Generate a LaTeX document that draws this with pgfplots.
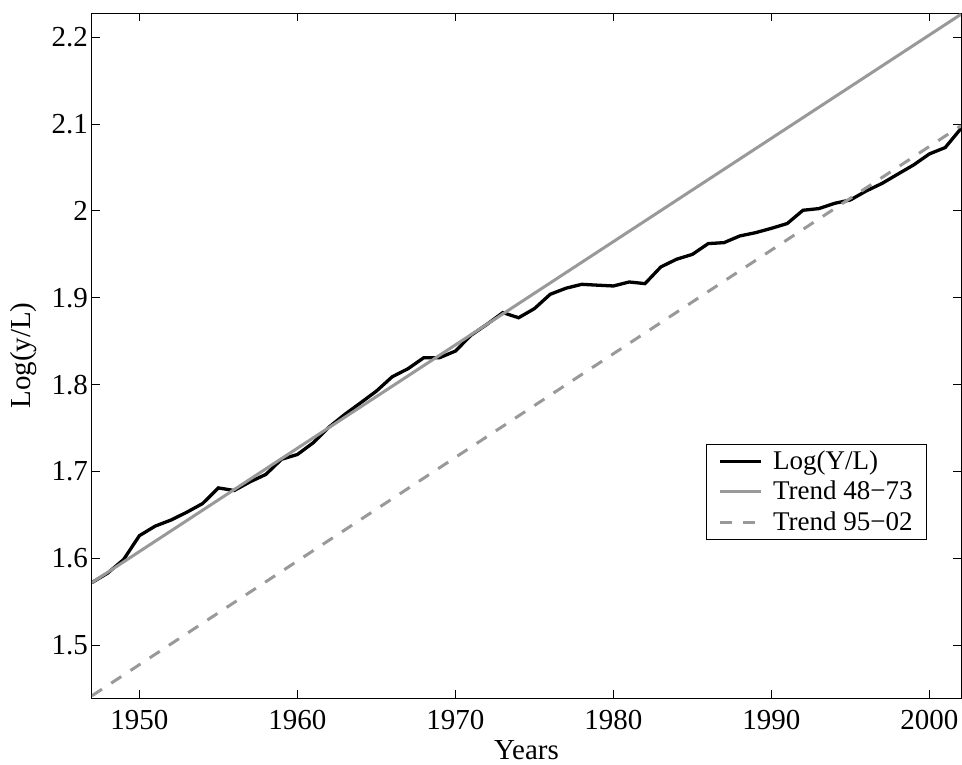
\documentclass[border=0pt]{standalone}
\usepackage{fontspec}
\setmainfont{Liberation Serif}
\usepackage{pgfplots}
\pgfplotsset{compat=1.18}
\definecolor{trendgray}{gray}{0.6}
\begin{document}
\begin{tikzpicture}
\begin{axis}[
  scale only axis,
  width=434.5pt, height=342.5pt,
  xmin=1947, xmax=2002,
  ymin=1.439, ymax=2.228,
  xtick={1950,1960,...,2000},
  ytick={1.5,1.6,...,2.2},
  yticklabels={1.5,1.6,1.7,1.8,1.9,2,2.1,2.2},
  /pgf/number format/assume math mode=true,
  tick align=inside,
  major tick length=4pt,
  minor tick num=0,
  axis line style={line width=0.5pt},
  every tick/.style={black, line width=0.5pt},
  tick label style={font=\rmfamily\fontsize{14.5}{16}\selectfont},
  xticklabel style={yshift=-2.5pt, /pgf/number format/1000 sep={}},
  yticklabel style={xshift=1.5pt},
  label style={font=\rmfamily\fontsize{14.5}{16}\selectfont},
  xlabel={Years},
  ylabel={Log(y/L)},
  xlabel style={at={(axis description cs:0.5,-0.0758)}, anchor=center},
  ylabel style={at={(axis description cs:-0.0788,0.5)}, anchor=center, rotate=0},
  legend style={at={(axis description cs:0.9609,0.2307)}, anchor=south east,
    font=\rmfamily\fontsize{13.5}{15}\selectfont, draw=black, line width=0.5pt,
    inner xsep=5pt, inner ysep=1pt, row sep=0.5pt},
  legend cell align=left,
  legend image code/.code={\path[draw=none] (-2pt,0pt) -- (24.5pt,0pt);\draw[#1] (0pt,0pt) -- (20.5pt,0pt);},
  clip=true,
]
\addplot[black, line width=1.65pt] coordinates {
(1947,1.572) (1948,1.583) (1949,1.5985) (1950,1.626) (1951,1.637)
(1952,1.644) (1953,1.653) (1954,1.663) (1955,1.681) (1956,1.678)
(1957,1.688) (1958,1.6965) (1959,1.714) (1960,1.7195) (1961,1.733)
(1962,1.751) (1963,1.7657) (1964,1.779) (1965,1.7925) (1966,1.809)
(1967,1.8183) (1968,1.831) (1969,1.831) (1970,1.8386) (1971,1.857)
(1972,1.8694) (1973,1.8829) (1974,1.877) (1975,1.8875) (1976,1.904)
(1977,1.911) (1978,1.9155) (1979,1.9145) (1980,1.9136) (1981,1.9182)
(1982,1.9163) (1983,1.9355) (1984,1.9444) (1985,1.950) (1986,1.9624)
(1987,1.9635) (1988,1.9712) (1989,1.975) (1990,1.980) (1991,1.9855)
(1992,2.0008) (1993,2.0027) (1994,2.0088) (1995,2.0127) (1996,2.023)
(1997,2.0317) (1998,2.0424) (1999,2.053) (2000,2.0657) (2001,2.073)
(2002,2.095)
};
\addlegendentry{Log(Y/L)}
\addplot[trendgray, line width=1.5pt] coordinates {(1947,1.572) (2002,2.2265)};
\addlegendentry{Trend 48−73}
\addplot[trendgray, line width=1.5pt, dash pattern=on 6pt off 5.5pt] coordinates {(1947,1.4416) (2002,2.0982)};
\addlegendentry{Trend 95−02}
\end{axis}
\pgfresetboundingbox
\path ([xshift=-46pt,yshift=-33pt]current axis.south west) rectangle ([xshift=0.5pt,yshift=6.5pt]current axis.north east);
\end{tikzpicture}
\end{document}
